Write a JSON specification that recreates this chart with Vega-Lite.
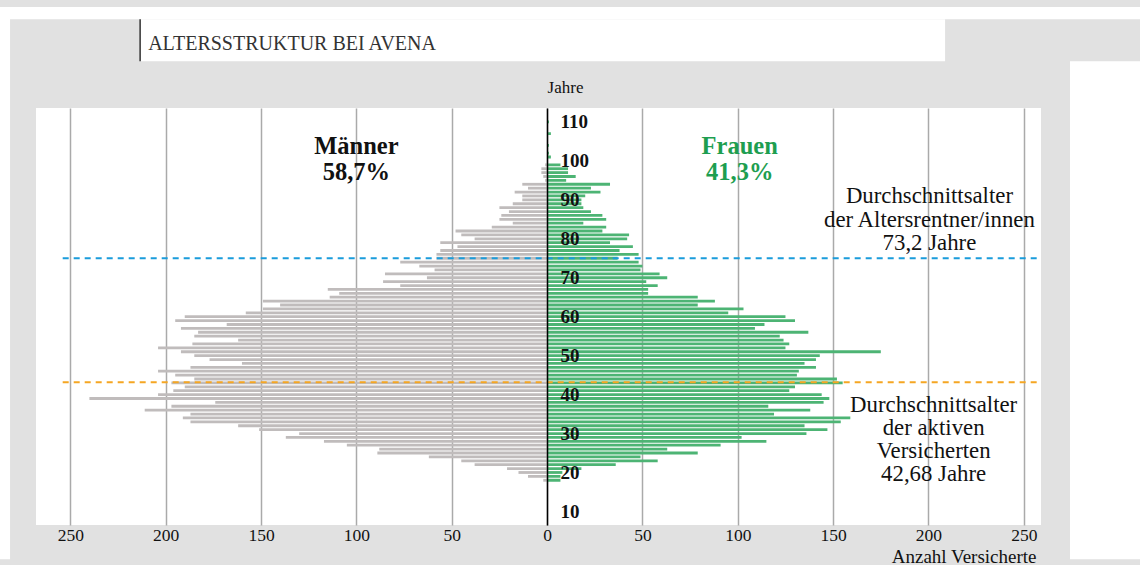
{
  "$schema": "https://vega.github.io/schema/vega-lite/v6.json",
  "width": 1005,
  "height": 417,
  "autosize": {"type": "none"},
  "padding": {"left": 36, "top": 108, "right": 99, "bottom": 40},
  "background": "#e1e1e1",
  "config": {
    "view": {"fill": "white", "stroke": null},
    "font": "Liberation Serif",
    "text": {"font": "Liberation Serif"}
  },
  "datasets": {
    "pyramide": [
      {"alter":110,"Männer":0,"Frauen":1},
      {"alter":107,"Männer":0,"Frauen":2},
      {"alter":104,"Männer":0,"Frauen":1},
      {"alter":102,"Männer":0,"Frauen":1},
      {"alter":101,"Männer":0,"Frauen":2},
      {"alter":99,"Männer":-1,"Frauen":7},
      {"alter":98,"Männer":-3,"Frauen":11},
      {"alter":97,"Männer":-3,"Frauen":11},
      {"alter":96,"Männer":-2,"Frauen":15},
      {"alter":95,"Männer":-1,"Frauen":10},
      {"alter":94,"Männer":-13,"Frauen":33},
      {"alter":93,"Männer":-10,"Frauen":23},
      {"alter":92,"Männer":-17,"Frauen":28},
      {"alter":91,"Männer":-13,"Frauen":20},
      {"alter":90,"Männer":-13,"Frauen":18},
      {"alter":89,"Männer":-18,"Frauen":18},
      {"alter":88,"Männer":-25,"Frauen":19},
      {"alter":87,"Männer":-20,"Frauen":23},
      {"alter":86,"Männer":-24,"Frauen":29},
      {"alter":85,"Männer":-25,"Frauen":31},
      {"alter":84,"Männer":-18,"Frauen":19},
      {"alter":83,"Männer":-29,"Frauen":31},
      {"alter":82,"Männer":-48,"Frauen":29},
      {"alter":81,"Männer":-45,"Frauen":43},
      {"alter":80,"Männer":-38,"Frauen":42},
      {"alter":79,"Männer":-56,"Frauen":33},
      {"alter":78,"Männer":-47,"Frauen":45},
      {"alter":77,"Männer":-56,"Frauen":38},
      {"alter":76,"Männer":-58,"Frauen":48},
      {"alter":75,"Männer":-58,"Frauen":37},
      {"alter":74,"Männer":-77,"Frauen":48},
      {"alter":73,"Männer":-67,"Frauen":50},
      {"alter":72,"Männer":-59,"Frauen":49},
      {"alter":71,"Männer":-85,"Frauen":59},
      {"alter":70,"Männer":-63,"Frauen":63},
      {"alter":69,"Männer":-86,"Frauen":52},
      {"alter":68,"Männer":-77,"Frauen":58},
      {"alter":67,"Männer":-115,"Frauen":53},
      {"alter":66,"Männer":-109,"Frauen":53},
      {"alter":65,"Männer":-114,"Frauen":79},
      {"alter":64,"Männer":-149,"Frauen":88},
      {"alter":63,"Männer":-140,"Frauen":79},
      {"alter":62,"Männer":-149,"Frauen":103},
      {"alter":61,"Männer":-158,"Frauen":95},
      {"alter":60,"Männer":-190,"Frauen":125},
      {"alter":59,"Männer":-195,"Frauen":130},
      {"alter":58,"Männer":-168,"Frauen":114},
      {"alter":57,"Männer":-192,"Frauen":109},
      {"alter":56,"Männer":-183,"Frauen":137},
      {"alter":55,"Männer":-185,"Frauen":122},
      {"alter":54,"Männer":-162,"Frauen":124},
      {"alter":53,"Männer":-186,"Frauen":127},
      {"alter":52,"Männer":-204,"Frauen":125},
      {"alter":51,"Männer":-192,"Frauen":175},
      {"alter":50,"Männer":-185,"Frauen":143},
      {"alter":49,"Männer":-177,"Frauen":141},
      {"alter":48,"Männer":-160,"Frauen":135},
      {"alter":47,"Männer":-187,"Frauen":141},
      {"alter":46,"Männer":-204,"Frauen":132},
      {"alter":45,"Männer":-195,"Frauen":131},
      {"alter":44,"Männer":-185,"Frauen":152},
      {"alter":43,"Männer":-197,"Frauen":155},
      {"alter":42,"Männer":-190,"Frauen":130},
      {"alter":41,"Männer":-196,"Frauen":127},
      {"alter":40,"Männer":-204,"Frauen":144},
      {"alter":39,"Männer":-240,"Frauen":148},
      {"alter":38,"Männer":-174,"Frauen":145},
      {"alter":37,"Männer":-197,"Frauen":116},
      {"alter":36,"Männer":-211,"Frauen":138},
      {"alter":35,"Männer":-187,"Frauen":119},
      {"alter":34,"Männer":-191,"Frauen":159},
      {"alter":33,"Männer":-187,"Frauen":154},
      {"alter":32,"Männer":-162,"Frauen":135},
      {"alter":31,"Männer":-151,"Frauen":147},
      {"alter":30,"Männer":-130,"Frauen":136},
      {"alter":29,"Männer":-137,"Frauen":102},
      {"alter":28,"Männer":-117,"Frauen":115},
      {"alter":27,"Männer":-105,"Frauen":91},
      {"alter":26,"Männer":-88,"Frauen":63},
      {"alter":25,"Männer":-89,"Frauen":79},
      {"alter":24,"Männer":-62,"Frauen":49},
      {"alter":23,"Männer":-45,"Frauen":58},
      {"alter":22,"Männer":-38,"Frauen":36},
      {"alter":21,"Männer":-21,"Frauen":18},
      {"alter":20,"Männer":-15,"Frauen":8},
      {"alter":19,"Männer":-10,"Frauen":7},
      {"alter":18,"Männer":-2,"Frauen":7}
    ]
  },
  "layer": [
    {
      "data": {"values": [{}]},
      "mark": {"type": "rect", "color": "white"},
      "encoding": {
        "x": {"datum": -287, "type": "quantitative"},
        "x2": {"datum": 311},
        "y": {"datum": 139.5, "type": "quantitative"},
        "y2": {"datum": 136.4}
      }
    },
    {
      "data": {"values": [{}]},
      "mark": {"type": "rect", "color": "white"},
      "encoding": {
        "x": {"datum": -287, "type": "quantitative"},
        "x2": {"datum": -281.6},
        "y": {"datum": 139.5, "type": "quantitative"},
        "y2": {"datum": -2.3}
      }
    },
    {
      "data": {"values": [{}]},
      "mark": {"type": "rect", "color": "white"},
      "encoding": {
        "x": {"datum": 274.2, "type": "quantitative"},
        "x2": {"datum": 311},
        "y": {"datum": 125.6, "type": "quantitative"},
        "y2": {"datum": -2.3}
      }
    },
    {
      "data": {"values": [{}]},
      "mark": {"type": "rect", "color": "white"},
      "encoding": {
        "x": {"datum": -213.4, "type": "quantitative"},
        "x2": {"datum": 208.7},
        "y": {"datum": 136.4, "type": "quantitative"},
        "y2": {"datum": 125.6}
      }
    },
    {
      "data": {"values": [{}]},
      "mark": {"type": "rule", "color": "#333333", "strokeWidth": 1.5},
      "encoding": {
        "x": {"datum": -213.4, "type": "quantitative"},
        "y": {"datum": 136.4, "type": "quantitative"},
        "y2": {"datum": 125.6}
      }
    },
    {
      "data": {"values": [{}]},
      "mark": {"type": "text", "text": "ALTERSSTRUKTUR BEI AVENA", "align": "left", "baseline": "middle", "fontSize": 20, "color": "#333333"},
      "encoding": {
        "x": {"datum": -209.2, "type": "quantitative"},
        "y": {"datum": 129.9, "type": "quantitative"}
      }
    },
    {
      "data": {"name": "pyramide"},
      "transform": [
        {"fold": ["Männer", "Frauen"], "as": ["geschlecht", "anzahl"]},
        {"filter": "datum.anzahl != 0"}
      ],
      "mark": {"type": "bar", "orient": "horizontal", "size": 2.8},
      "encoding": {
        "y": {
          "field": "alter", "type": "quantitative",
          "scale": {"domain": [7.8, 112.3], "nice": false, "zero": false},
          "axis": {
            "orient": "right", "offset": -494,
            "values": [10, 20, 30, 40, 50, 60, 70, 80, 90, 100, 110],
            "grid": false, "ticks": false,
            "domain": true, "domainColor": "#000000", "domainWidth": 1.5,
            "labelFont": "Liberation Serif", "labelFontSize": 19, "labelFontWeight": "bold",
            "labelColor": "#111111", "labelPadding": 13, "labelAlign": "left", "labelBaseline": "middle",
            "labelFlush": false, "labelOverlap": false, "zindex": 1,
            "title": "Jahre", "titleAngle": 0, "titleX": 18, "titleY": -21,
            "titleAlign": "center", "titleBaseline": "middle",
            "titleFont": "Liberation Serif", "titleFontSize": 17, "titleFontWeight": "normal", "titleColor": "#111111"
          }
        },
        "x": {
          "field": "anzahl", "type": "quantitative", "stack": null,
          "scale": {"domain": [-268, 259], "nice": false, "zero": false},
          "axis": {
            "orient": "bottom",
            "values": [-250, -200, -150, -100, -50, 0, 50, 100, 150, 200, 250],
            "labelExpr": "'' + abs(datum.value)",
            "grid": true, "gridColor": "#aaaaaa", "gridWidth": 1.5,
            "domain": false, "ticks": false,
            "labelFont": "Liberation Serif", "labelFontSize": 17.5, "labelColor": "#111111",
            "labelPadding": 1, "labelFlush": false, "labelOverlap": false,
            "title": "Anzahl Versicherte", "titleX": 1000, "titleY": 31,
            "titleAlign": "right", "titleBaseline": "middle",
            "titleFont": "Liberation Serif", "titleFontSize": 19, "titleFontWeight": "normal", "titleColor": "#111111"
          }
        },
        "color": {
          "field": "geschlecht", "type": "nominal",
          "scale": {"domain": ["Männer", "Frauen"], "range": ["#c0bcbc", "#4db474"]},
          "legend": null
        }
      }
    },
    {
      "data": {"values": [{}]},
      "mark": {"type": "rule", "color": "#1a9cdb", "strokeWidth": 2, "strokeDash": [6, 5]},
      "encoding": {
        "x": {"datum": -254, "type": "quantitative"},
        "x2": {"datum": 257},
        "y": {"datum": 75.0, "type": "quantitative"}
      }
    },
    {
      "data": {"values": [{}]},
      "mark": {"type": "rule", "color": "#f5a623", "strokeWidth": 2, "strokeDash": [6, 5]},
      "encoding": {
        "x": {"datum": -254, "type": "quantitative"},
        "x2": {"datum": 257},
        "y": {"datum": 43.2, "type": "quantitative"}
      }
    },
    {
      "data": {"values": [{}]},
      "mark": {"type": "text", "text": ["Männer", "58,7%"], "fontSize": 24.5, "fontWeight": "bold", "lineHeight": 26, "align": "center", "baseline": "middle", "color": "#111111"},
      "encoding": {
        "x": {"datum": -100, "type": "quantitative"},
        "y": {"datum": 103.6, "type": "quantitative"}
      }
    },
    {
      "data": {"values": [{}]},
      "mark": {"type": "text", "text": ["Frauen", "41,3%"], "fontSize": 24.5, "fontWeight": "bold", "lineHeight": 26, "align": "center", "baseline": "middle", "color": "#1e9e50"},
      "encoding": {
        "x": {"datum": 101, "type": "quantitative"},
        "y": {"datum": 103.6, "type": "quantitative"}
      }
    },
    {
      "data": {"values": [{}]},
      "mark": {"type": "text", "text": ["Durchschnittsalter", "der Altersrentner/innen", "73,2 Jahre"], "fontSize": 22.8, "lineHeight": 23.3, "align": "center", "baseline": "middle", "color": "#111111"},
      "encoding": {
        "x": {"datum": 200.5, "type": "quantitative"},
        "y": {"datum": 90.9, "type": "quantitative"}
      }
    },
    {
      "data": {"values": [{}]},
      "mark": {"type": "text", "text": ["Durchschnittsalter", "der aktiven", "Versicherten", "42,68 Jahre"], "fontSize": 22.8, "lineHeight": 23.1, "align": "center", "baseline": "middle", "color": "#111111"},
      "encoding": {
        "x": {"datum": 202.7, "type": "quantitative"},
        "y": {"datum": 37.3, "type": "quantitative"}
      }
    }
  ]
}
